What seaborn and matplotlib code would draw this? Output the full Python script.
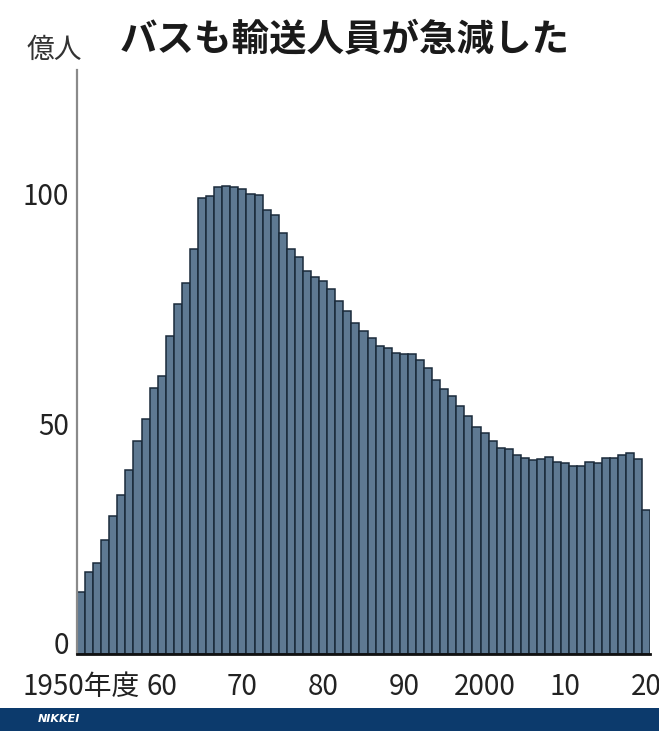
import matplotlib
matplotlib.use("Agg")
import matplotlib.pyplot as plt
from matplotlib.patches import Rectangle
from matplotlib.transforms import ScaledTranslation
import pandas as pd
import seaborn as sns

# 乗合バスの年度別輸送人員（億人）
years = list(range(1950, 2021))
passengers = [
    13.5, 17.7, 19.8, 24.7, 29.9, 34.5, 39.9, 46.2, 51.0, 57.8,
    60.3, 69.0, 75.9, 80.5, 87.9, 98.9, 99.4, 101.4, 101.5, 101.4,
    100.8, 99.7, 99.6, 96.3, 95.2, 91.3, 87.8, 86.1, 83.1, 81.8,
    81.0, 79.1, 76.6, 74.4, 71.9, 70.1, 68.5, 66.9, 66.3, 65.4,
    65.0, 65.0, 63.7, 62.0, 59.4, 57.6, 56.0, 53.9, 51.7, 49.2,
    47.9, 46.2, 44.8, 44.4, 43.2, 42.5, 42.1, 42.2, 42.8, 41.7,
    41.4, 40.8, 40.8, 41.7, 41.5, 42.6, 42.6, 43.2, 43.5, 42.3,
    31.2,
]
tick_years = [1950, 1960, 1970, 1980, 1990, 2000, 2010, 2020]
tick_labels = ["1950年度", "60", "70", "80", "90", "2000", "10", "20"]
y_ticks = [0, 50, 100]

title = "バスも輸送人員が急減した"
unit = "億人"
credit = "NIKKEI"

sns.set_theme(style="white")
plt.rcParams["font.family"] = ["Noto Sans CJK JP", "DejaVu Sans"]

W, H = 659, 731
fig = plt.figure(figsize=(W / 100, H / 100), dpi=100)
fig.patch.set_facecolor("white")

left, right, bottom, top = 77, 650, 654, 70
ax = fig.add_axes([left / W, 1 - bottom / H, (right - left) / W, (bottom - top) / H])

df = pd.DataFrame({"year": years, "passengers": passengers})
sns.barplot(
    data=df, x="year", y="passengers", ax=ax,
    color="#5e7992", saturation=1, width=1.0,
    edgecolor="#1a2a3a", linewidth=1.1,
)

ax.set_xlim(-0.5, len(years) - 0.5)
ax.set_ylim(0, 126.7)
ax.set_xlabel("")
ax.set_ylabel("")

ax.set_xticks([years.index(y) for y in tick_years], tick_labels)
ax.set_yticks(y_ticks, [str(v) for v in y_ticks])
ax.tick_params(axis="x", length=0, pad=13, labelsize=20, labelcolor="#222222")
ax.tick_params(axis="y", direction="in", length=7, width=1.2, color="#808080",
               pad=6, labelsize=20, labelcolor="#222222")

# lift the zero label clear of the baseline
zero_label = ax.get_yticklabels()[0]
zero_label.set_transform(zero_label.get_transform()
                         + ScaledTranslation(0, 12 / 100, fig.dpi_scale_trans))

for side in ("top", "right"):
    ax.spines[side].set_visible(False)
ax.spines["left"].set_color("#8a8a8a")
ax.spines["left"].set_linewidth(1.6)
ax.spines["bottom"].set_color("#111111")
ax.spines["bottom"].set_linewidth(2.0)
ax.grid(False)

fig.text(120 / W, 1 - 39 / H, title, fontsize=27, fontweight="bold",
         color="#1a1a1a", ha="left", va="center")
fig.text(27 / W, 1 - 50 / H, unit, fontsize=20,
         color="#333333", ha="left", va="center")

band_h = 23
fig.patches.append(Rectangle((0, 0), 1, band_h / H, transform=fig.transFigure,
                             facecolor="#0c3a6c", edgecolor="none", zorder=0))
fig.text(38 / W, (band_h / 2) / H, credit, fontsize=8, fontweight="bold",
         style="italic", family=["DejaVu Sans"], color="white",
         ha="left", va="center")

fig.savefig("out.png", dpi=100, facecolor="white")
